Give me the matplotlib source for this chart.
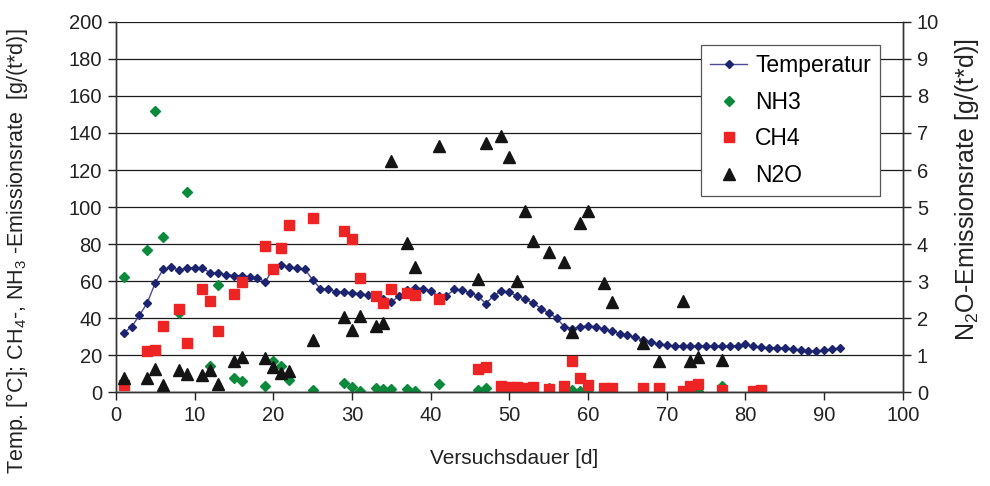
import matplotlib
matplotlib.use('Agg')
import matplotlib.pyplot as plt
import numpy as np

plt.rcParams['font.family'] = ['Liberation Sans', 'DejaVu Sans']
plt.rcParams['mathtext.fontset'] = 'custom'
plt.rcParams['mathtext.rm'] = 'Liberation Sans'

# Temperatur, daily values
temp_days = list(range(1, 93))
temp_vals = [32, 35.3, 41.5, 48.3, 59, 66.3, 67.4, 66, 67, 67.2,
             67.2, 64.3, 64.3, 63.4, 63, 62.9, 62.3, 61.8, 59.6, 67,
             68.5, 67.6, 67, 66.6, 60.7, 55.9, 55.7, 54.2, 53.9, 53.7,
             53.3, 52.4, 51.5, 50.6, 48.8, 51.9, 55, 56.4, 55.9, 54.8,
             52, 52, 55.5, 55.1, 53.7, 52, 47.9, 52, 54.8, 53.9,
             51.9, 50.1, 48.3, 45.2, 42.9, 40, 35.3, 34.4, 35.3, 35.8,
             35.3, 34.1, 33, 31.7, 30.8, 29.6, 28.1, 27.2, 25.9, 25.4,
             25, 24.9, 24.9, 24.9, 24.9, 24.9, 24.9, 24.9, 25.2, 25.8,
             24.7, 24.3, 24.1, 24.1, 23.9, 23.3, 22.7, 22.2, 22.2, 22.7,
             23.2, 23.8]

# NH3
nh3_days = [1, 4, 5, 6, 8, 9, 12, 13, 15, 16, 19, 20, 21, 22, 25, 29, 30, 31,
            33, 34, 35, 37, 38, 41, 46, 47, 49, 50, 51, 52, 53, 55, 57, 58,
            59, 60, 63, 67, 69, 73, 74, 77]
nh3_vals = [62, 77, 152, 84, 43, 108, 14, 58, 7.5, 6, 3.2, 17, 14, 6.5, 1.3,
            5, 2.9, 0.8, 2.4, 1.5, 1.5, 1.6, 0.7, 4.5, 1.3, 2.5, 0.5, 0.3,
            0.3, 0.3, 0.3, 2.5, 1, 1, 0.5, 0.2, 0.2, 0.2, 0.2, 0.7, 0.7, 3.5]

# CH4
ch4_days = [1, 4, 5, 6, 8, 9, 11, 12, 13, 15, 16, 19, 20, 21, 22, 25, 29, 30,
            31, 33, 34, 35, 37, 38, 41, 46, 47, 49, 50, 51, 52, 53, 55, 57,
            58, 59, 60, 62, 63, 67, 69, 72, 73, 74, 77, 81, 82]
ch4_vals = [3.8, 22, 23, 36, 45, 26.7, 56, 49.4, 33.3, 53, 59.5, 78.7, 66.8,
            77.7, 90.3, 93.9, 86.8, 83, 61.6, 52, 48.3, 56, 53.7, 52.4, 50.1,
            12.6, 13.7, 3.2, 2.7, 2.7, 2.3, 2.7, 1.6, 3.6, 17, 7.6, 4, 2, 2.5,
            2, 2, 0.8, 3.4, 4.3, 1.3, 0.7, 1.4]

# N2O (right axis)
n2o_days = [1, 4, 5, 6, 8, 9, 11, 12, 13, 15, 16, 19, 20, 21, 22, 25, 29, 30,
            31, 33, 34, 35, 37, 38, 41, 46, 47, 49, 50, 51, 52, 53, 55, 57,
            58, 59, 60, 62, 63, 67, 69, 72, 73, 74, 77]
n2o_vals = [0.39, 0.39, 0.64, 0.19, 0.61, 0.5, 0.47, 0.59, 0.22, 0.84, 0.96,
            0.92, 0.67, 0.52, 0.58, 1.4, 2.02, 1.68, 2.05, 1.8, 1.87, 6.23,
            4.03, 3.37, 6.65, 3.05, 6.74, 6.92, 6.36, 2.99, 4.88, 4.07, 3.78,
            3.51, 1.62, 4.56, 4.9, 2.94, 2.43, 1.33, 0.85, 2.45, 0.85, 0.95,
            0.88]

fig = plt.figure(figsize=(9.9, 4.86), dpi=100)
ax = fig.add_axes([0.117, 0.193, 0.795, 0.762])
ax2 = ax.twinx()

ax.set_xlim(0, 100)
ax.set_ylim(0, 200)
ax2.set_ylim(0, 10)
ax.set_xticks(np.arange(0, 101, 10))
ax.set_yticks(np.arange(0, 201, 20))
ax2.set_yticks(np.arange(0, 11, 1))
ax.yaxis.grid(True, color='#1a1a1a', linewidth=0.9)
ax.set_axisbelow(True)

l_temp, = ax.plot(temp_days, temp_vals, color='#4a4a98', linewidth=1.0,
                  marker='D', markersize=3.8, markerfacecolor='#1c2470',
                  markeredgecolor='#1c2470', label='Temperatur')
l_nh3, = ax.plot(nh3_days, nh3_vals, linestyle='none', marker='D', markersize=5.2,
                 color='#0b8a3c', label='NH3')
l_ch4, = ax.plot(ch4_days, ch4_vals, linestyle='none', marker='s', markersize=7,
                 color='#ee2424', label='CH4')
l_n2o, = ax2.plot(n2o_days, n2o_vals, linestyle='none', marker='^', markersize=8.5,
                  color='#141414', label='N2O')

for a in (ax, ax2):
    for s in a.spines.values():
        s.set_color('#333333')
        s.set_linewidth(1.0)
    a.tick_params(labelsize=14.5, colors='#222222', length=6, width=1.0,
                  direction='out', pad=4)
ax.spines['top'].set_visible(False)
ax2.spines['top'].set_visible(False)

fig.text(0.519, 0.0576, 'Versuchsdauer [d]', fontsize=15, color='#222222',
         ha='center', va='center')
fig.text(0.0172, 0.4835,
         r'Temp. [°C]; CH$_\mathregular{4}$-, NH$_\mathregular{3}$ -Emissionsrate  [g/(t*d)]',
         fontsize=15.5, color='#222222', rotation=90, ha='center', va='center',
         rotation_mode='anchor')
fig.text(0.977, 0.61, r'N$_\mathregular{2}$O-Emissionsrate [g/(t*d)]',
         fontsize=18, color='#222222', rotation=90, ha='center', va='center',
         rotation_mode='anchor')

# legend on the twin axes so it sits above the N2O markers
leg = ax2.legend(handles=[l_temp, l_nh3, l_ch4, l_n2o], loc='upper right',
                 bbox_to_anchor=(0.971, 0.938), borderaxespad=0, fontsize=16.5,
                 frameon=True, fancybox=False, edgecolor='#555555', framealpha=1,
                 handlelength=1.6, labelspacing=0.6, borderpad=0.4,
                 handletextpad=0.35)
leg.get_frame().set_linewidth(0.9)

fig.savefig('out.png', dpi=100)
